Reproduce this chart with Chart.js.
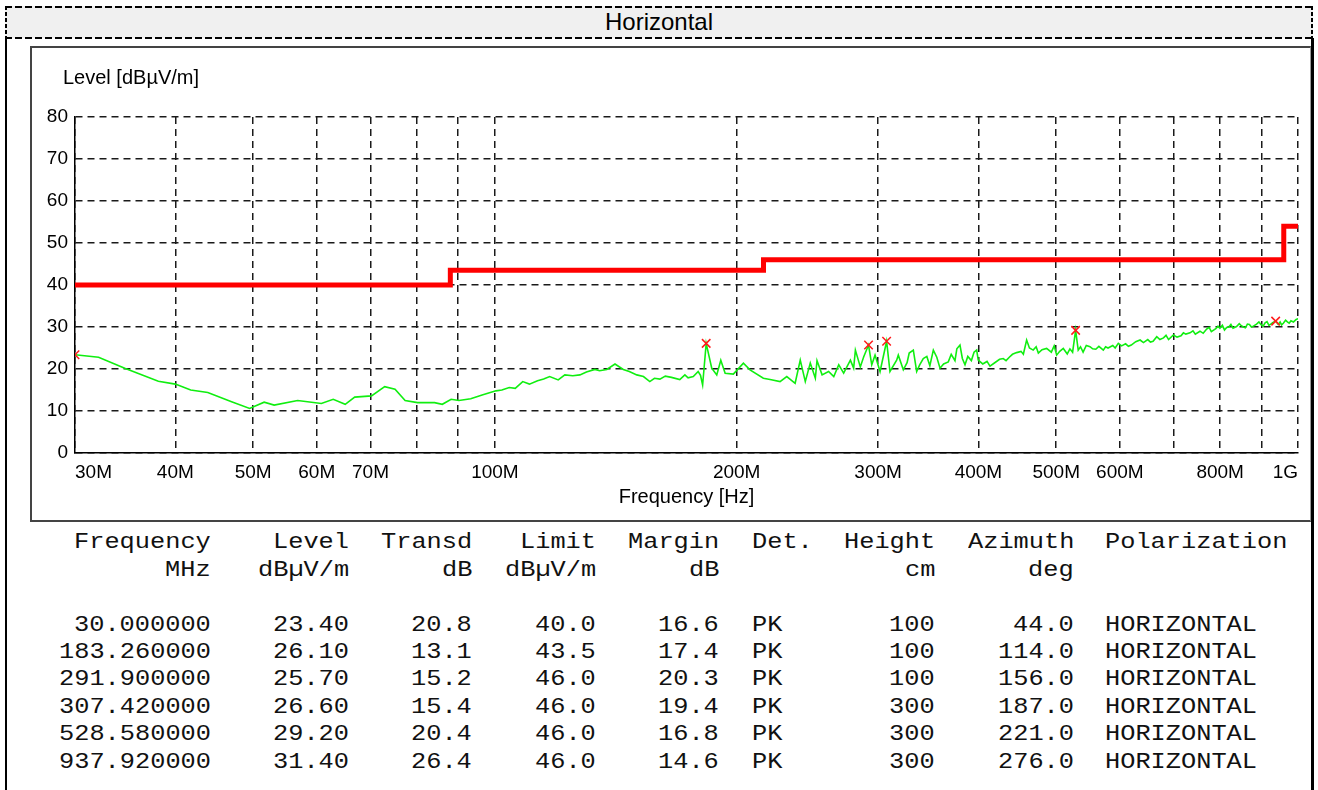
<!DOCTYPE html>
<html><head><meta charset="utf-8">
<script src="https://cdn.jsdelivr.net/npm/chart.js@4.4.1/dist/chart.umd.min.js"></script>
<style>
html,body{margin:0;padding:0;background:#fff;}
body{width:1318px;height:790px;position:relative;overflow:hidden;font-family:'Liberation Sans',Arial,sans-serif;color:#000;}
.abs{position:absolute;}
#band{left:5px;top:6px;width:1308px;height:32px;background:#f0f0f0;}
.dh{position:absolute;height:2px;background:repeating-linear-gradient(to right,#000 0 7px,transparent 7px 10px);}
.dv{position:absolute;width:2px;background:repeating-linear-gradient(to bottom,#000 0 4px,transparent 4px 6px);}
#title{left:5px;top:6px;width:1308px;height:32px;line-height:32px;text-align:center;font-size:24px;}
#outerL{left:5px;top:38px;width:2px;height:752px;background:#000;}
#outerR{left:1311px;top:38px;width:3px;height:752px;background:#000;}
#frame{left:30px;top:46px;width:1278px;height:472px;border-top:2px solid #444;border-left:2px solid #444;border-right:1px solid #999;border-bottom:2px solid #444;background:#fff;}
#cv{position:absolute;left:32px;top:48px;}
#ylab{left:63px;top:67px;font-size:20px;line-height:20px;white-space:nowrap;}
.cell{position:absolute;height:27.4px;line-height:27.4px;white-space:pre;font-family:'Liberation Mono','Courier New',monospace;font-size:22px;color:#111;transform-origin:0 50%;}
</style></head>
<body>
<div id="band" class="abs"></div>
<div class="dh" style="left:5px;top:6px;width:1308px"></div>
<div class="dh" style="left:5px;top:37px;width:1308px"></div>
<div class="dv" style="left:5px;top:6px;height:32px"></div>
<div class="dv" style="left:1311px;top:6px;height:32px"></div>
<div id="title" class="abs">Horizontal</div>
<div id="outerL" class="abs"></div>
<div id="outerR" class="abs"></div>
<div id="frame" class="abs"></div>
<canvas id="cv" width="1278" height="472"></canvas>
<div id="ylab" class="abs">Level [dBµV/m]</div>
<div id="table"></div>
<script>
// ---- measurement trace (MHz / dBµV/m) ----
const traceFreqs = [
  30,32.1,34.6,38.1,40.0,41.8,43.9,47.0,49.5,51.6,
  53.1,56.8,60.8,62.9,65.1,66.9,70.2,72.9,75.1,77.3,
  80.1,84.1,86.0,88.2,90.2,93.3,96.4,100.3,102,104.2,
  106,108.3,110.4,113,115,117.0,119.9,122.2,125,127.6,
  130,133.2,135,137.8,141.1,144.5,147,150.2,153.1,155.9,
  158,160.5,163,165.9,169.9,172.4,174,176.6,179.1,180.3,
  181.4,183.26,186.2,188.9,191.1,193.5,198.1,203.9,207.8,215.9,
  220.1,226.5,230.9,236.5,240.0,243.5,247.0,250.6,251.8,255.5,
  260.3,264.2,268.0,271.8,277.1,279.7,281.1,285.1,287.9,291.9,
  294.6,297.4,301.7,307.42,310.4,316.4,317.9,322.5,326,328,
  331.9,335.1,338,341.5,345,348,351.5,355,358.3,362,
  366.9,370,374,376,379.4,382,384.9,388,392,395,
  398.0,399.8,405,410,413.5,420,425,429.5,433,437,
  441,446.3,452,455,459.3,463,468,472,475,480,
  486.4,493,497,500.6,505,510.2,516,520,524,528.58,
  532.5,536,540,545,550.8,555,560,565,572.2,576,
  580,588,592,597.4,603,610,615,620,628,635.9,
  642,650,655,660,667,673,680,685,690,699.6,
  707,715,720,725,733.8,740,745,755,762,769.6,
  775,780,790,795,799.4,805,810,815,820,825,
  830,838.5,845,850,855,860,865,870,875,880,
  888,894,900,905,910,915,920,925,930,937.92,
  945,950,954,958.8,965,970,975,980,987,995,
  1000];
const traceLevels = [
  23.4,22.8,20.2,17.1,16.4,15.0,14.4,12.2,10.6,12.1,
  11.4,12.5,11.8,12.8,11.6,13.3,13.6,15.8,15.2,12.5,
  12.0,12.0,11.6,12.8,12.5,12.9,13.8,14.8,15.0,15.6,
  15.4,17.0,16.4,17.2,17.6,18.2,17.4,18.6,18.4,18.6,
  19.3,19.9,19.6,19.9,21.2,19.9,19.4,18.6,18.2,17.0,
  17.8,17.6,18.3,18.0,17.5,18.6,17.9,18.2,19.4,18.5,
  16.2,26.1,20.2,18.6,22.1,19.0,18.8,21.4,19.8,17.8,
  17.5,17.0,18.2,16.6,22.1,17.0,21.4,17.8,22.0,18.6,
  19.4,18.2,21.0,19.0,22.1,20.2,24.5,20.5,22.9,25.7,
  21.0,23.3,19.4,26.6,19.4,22.1,23.3,19.8,21.5,23.8,
  24.5,19.4,21.0,22.5,23.0,20.8,24.5,22.8,20.2,21.2,
  21.7,23.5,22.0,24.8,25.7,22.5,21.0,23.0,22.0,24.0,
  24.5,22.1,21.2,21.8,20.7,21.6,22.3,22.5,22.0,22.8,
  23.5,23.9,24.2,23.5,26.9,25.0,24.5,25.3,23.8,24.6,
  24.9,24.0,25.5,23.3,24.2,24.9,23.6,24.8,24.0,29.2,
  24.5,25.3,24.0,25.6,25.3,24.8,24.7,25.4,24.5,25.3,
  25.0,25.6,25.0,26.1,25.5,26.0,25.4,25.7,26.5,26.9,
  26.3,27.0,26.4,26.6,27.7,27.0,27.4,28.0,27.0,28.1,
  27.6,27.9,28.6,28.3,28.6,29.1,28.3,29.0,28.5,29.5,
  29.9,28.9,29.6,30.2,29.7,30.4,29.3,29.9,30.0,30.6,
  29.7,30.1,30.8,30.3,30.0,29.8,30.7,30.6,30.0,30.2,
  30.7,31.2,30.5,30.2,31.0,31.3,30.4,30.7,31.0,31.4,
  30.6,31.2,30.5,30.9,31.6,31.2,30.9,31.5,31.2,31.8,
  32.0];
// ---- limit line ----
const limitFreqs = [30,88,88,216,216,960,960,1000];
const limitLevels = [40,40,43.5,43.5,46,46,54,54];
// ---- final measurement table ----
const markerFreqs = [30.0,183.26,291.9,307.42,528.58,937.92];
const markerLevels = [23.40,26.10,25.70,26.60,29.20,31.40];
const markerTransd = [20.8,13.1,15.2,15.4,20.4,26.4];
const markerLimit = [40.0,43.5,46.0,46.0,46.0,46.0];
const markerMargin = [16.6,17.4,20.3,19.4,16.8,14.6];
const markerDet = ['PK','PK','PK','PK','PK','PK'];
const markerHeight = [100,100,100,300,300,300];
const markerAzimuth = [44.0,114.0,156.0,187.0,221.0,276.0];
const markerPol = ['HORIZONTAL','HORIZONTAL','HORIZONTAL','HORIZONTAL','HORIZONTAL','HORIZONTAL'];
// ---- axes ----
const xTickValues = [30,40,50,60,70,80,90,100,200,300,400,500,600,700,800,900,1000];
const xTickLabels = ['30M','40M','50M','60M','70M','','','100M','200M','300M','400M','500M','600M','','800M','','1G'];
const yMin = 0, yMax = 80, yStep = 10;

const FONT = "'Liberation Sans', Arial, sans-serif";
const toXY = (xs, ys) => xs.map((x, i) => ({x: x, y: ys[i]}));

new Chart(document.getElementById('cv'), {
  type: 'scatter',
  data: {
    datasets: [
      {data: toXY(markerFreqs, markerLevels), pointStyle: 'crossRot', pointRadius: 6, borderColor: '#ff1a1a', borderWidth: 1.5, backgroundColor: '#ff1a1a', order: 0},
      {data: toXY(traceFreqs, traceLevels), showLine: true, pointRadius: 0, borderColor: '#10ee10', borderWidth: 1.6, order: 1},
      {data: toXY(limitFreqs, limitLevels), showLine: true, pointRadius: 0, borderColor: '#ff0000', borderWidth: 5, order: 2}
    ]
  },
  options: {
    responsive: false, animation: false,
    layout: {padding: {top: 69, right: 12, left: 0, bottom: 0}},
    plugins: {legend: {display: false}, tooltip: {enabled: false}},
    scales: {
      x: {
        type: 'logarithmic', min: 30, max: 1000, bounds: 'data',
        afterBuildTicks: s => { s.ticks = xTickValues.map(v => ({value: v})); },
        afterFit: s => { s.height = 67; },
        ticks: {autoSkip: false, maxRotation: 0, align: 'inner', padding: 8, color: '#000',
          font: {family: FONT, size: 19},
          callback: (v, i) => xTickLabels[i]},
        grid: {color: '#1a1a1a', lineWidth: 1.5, drawTicks: false},
        border: {display: true, color: '#000', width: 1.5, dash: [7, 5]},
        title: {display: true, text: 'Frequency [Hz]', color: '#000', font: {family: FONT, size: 20}, padding: {top: 0, bottom: 11}}
      },
      y: {
        type: 'linear', min: yMin, max: yMax,
        afterFit: s => { s.width = 43; },
        ticks: {stepSize: yStep, padding: 7, color: '#000', font: {family: FONT, size: 19}},
        grid: {color: '#1a1a1a', lineWidth: 1.5, drawTicks: false},
        border: {display: true, color: '#000', width: 1.5, dash: [7, 5]}
      }
    }
  }
});

// ---- table (fixed-pitch, glyphs widened to the reference pitch) ----
const PITCH = 15.2, ADV = 22 * 0.6, ROW0 = 543, ROWH = 27.4;
const cols = [
  {edge: 211, align: 'right', head: ['Frequency', 'MHz'], vals: markerFreqs.map(v => v.toFixed(6))},
  {edge: 349, align: 'right', head: ['Level', 'dBµV/m'], vals: markerLevels.map(v => v.toFixed(2))},
  {edge: 472, align: 'right', head: ['Transd', 'dB'], vals: markerTransd.map(v => v.toFixed(1))},
  {edge: 596, align: 'right', head: ['Limit', 'dBµV/m'], vals: markerLimit.map(v => v.toFixed(1))},
  {edge: 719, align: 'right', head: ['Margin', 'dB'], vals: markerMargin.map(v => v.toFixed(1))},
  {edge: 752, align: 'left', head: ['Det.', ''], vals: markerDet},
  {edge: 935, align: 'right', head: ['Height', 'cm'], vals: markerHeight.map(String)},
  {edge: 1074, align: 'right', head: ['Azimuth', 'deg'], vals: markerAzimuth.map(v => v.toFixed(1))},
  {edge: 1105, align: 'left', head: ['Polarization', ''], vals: markerPol}
];
const tbl = document.getElementById('table');
cols.forEach(c => {
  const lines = [c.head[0], c.head[1], ''].concat(c.vals);
  lines.forEach((txt, r) => {
    if (!txt) return;
    const d = document.createElement('div');
    d.className = 'cell';
    d.textContent = txt;
    const w = txt.length * PITCH;
    d.style.left = (c.align === 'right' ? c.edge - w : c.edge) + 'px';
    d.style.top = (ROW0 + r * ROWH - ROWH / 2) + 'px';
    d.style.transform = 'scaleX(' + (PITCH / ADV).toFixed(4) + ')';
    tbl.appendChild(d);
  });
});
</script>
</body></html>
